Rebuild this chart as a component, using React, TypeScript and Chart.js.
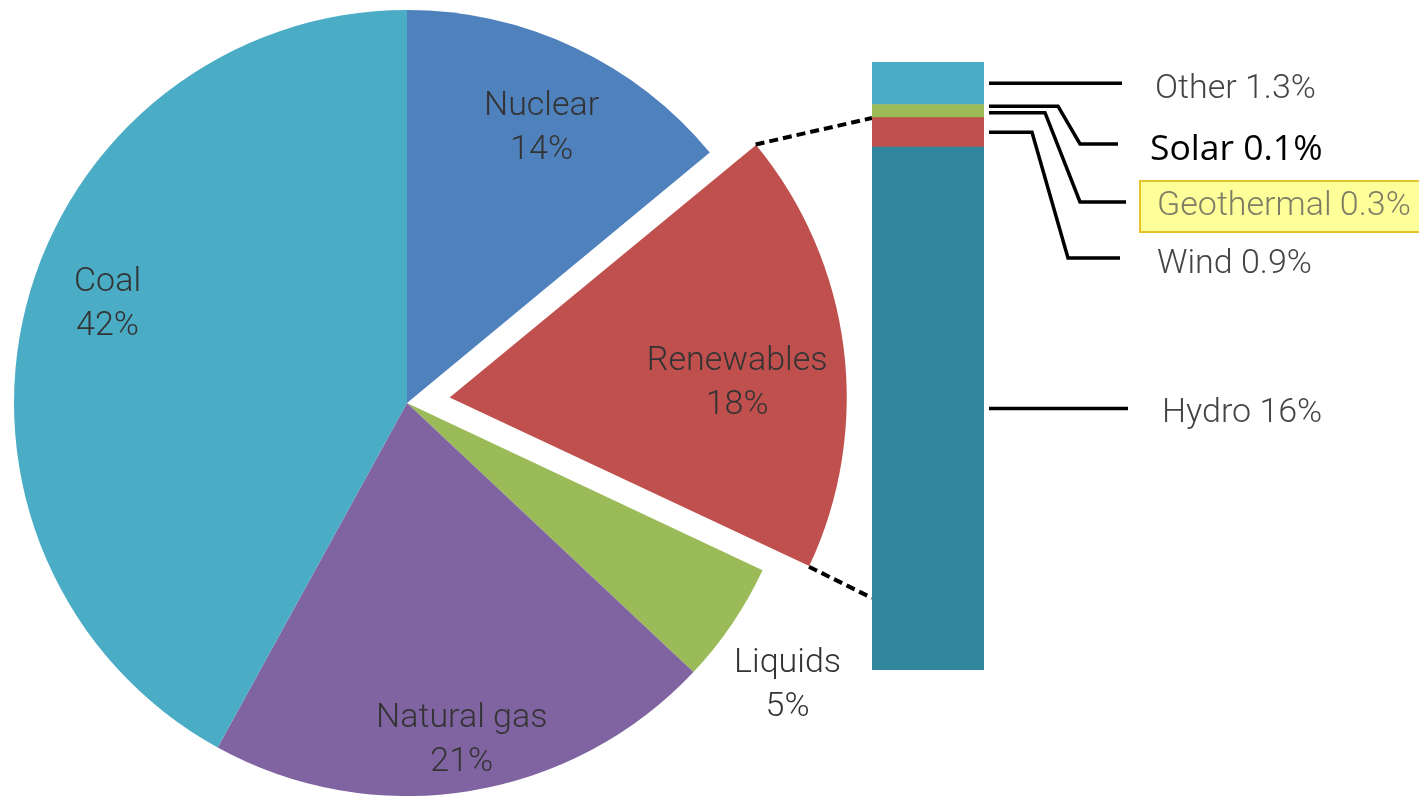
import React, { useEffect, useRef } from "react";
import { Chart, registerables } from "chart.js";

Chart.register(...registerables);

// ---- data ----
const pieLabels = ["Nuclear", "Renewables", "Liquids", "Natural gas", "Coal"];
const pieValues = [14, 18, 5, 21, 42];
const pieColors = ["#4F81BD", "#C0504D", "#9BBB59", "#8064A2", "#4BACC6"];

const renewLabels = ["Hydro", "Wind", "Geothermal", "Solar", "Other"];
const renewValues = [16, 0.9, 0.3, 0.1, 1.3];
const renewValueText = ["16%", "0.9%", "0.3%", "0.1%", "1.3%"];
const renewColors = ["#31859C", "#C0504D", "#9BBB59", "#9BBB59", "#4BACC6"];

// ---- layout / style (not data) ----
const W = 1419;
const H = 796;
const PIE_RADIUS = 393;
const explodeOffset = [0, 172, 0, 0, 0];
// radius factor & angle delta (deg) from slice mid-angle for each pie label
const pieLabelPlace = [
  { r: 0.787, da: 0.6 },
  { r: 0.733, da: 3.6 },
  { r: 1.2, da: 2.0 },
  { r: 0.862, da: -0.3 },
  { r: 0.805, da: 4.4 },
];
const LABEL_FONT = "300 34px Roboto";
const LABEL_COLOR = "#333333";

// leader lines: kink x, elbow (x,y), end x, text position, style
const leaders = [
  { kinkX: null, elbow: null, endX: 1128, tx: 1162, ty: 422, font: LABEL_FONT, color: "#444444", box: false },
  { kinkX: 1032, elbow: [1068, 258], endX: 1120, tx: 1157, ty: 273, font: LABEL_FONT, color: "#444444", box: false },
  { kinkX: 1045, elbow: [1080, 202], endX: 1126, tx: 1157, ty: 215, font: LABEL_FONT, color: "#7d7d66", box: true },
  { kinkX: 1058, elbow: [1080, 144], endX: 1118, tx: 1150, ty: 160, font: "400 35.5px 'Open Sans'", color: "#000000", box: false },
  { kinkX: null, elbow: null, endX: 1122, tx: 1155, ty: 98, font: LABEL_FONT, color: "#444444", box: false },
];
const dashTargets = [
  [872, 118],
  [872, 598],
];

const piePlugin = {
  id: "pieLabels",
  afterDatasetsDraw(chart: any) {
    const ctx = chart.ctx;
    const meta = chart.getDatasetMeta(0);
    ctx.save();
    meta.data.forEach((arc: any, i: number) => {
      const p = arc.getProps(["x", "y", "startAngle", "endAngle", "outerRadius", "circumference"], true);
      const off = explodeOffset[i] / 4;
      const mid = (p.startAngle + p.endAngle) / 2;
      const cx = p.x + Math.cos(mid) * off;
      const cy = p.y + Math.sin(mid) * off;
      const place = pieLabelPlace[i];
      const a = mid + (place.da * Math.PI) / 180;
      const r = p.outerRadius * place.r;
      const lx = cx + Math.cos(a) * r;
      const ly = cy + Math.sin(a) * r;
      ctx.font = LABEL_FONT;
      ctx.fillStyle = LABEL_COLOR;
      ctx.textAlign = "center";
      ctx.textBaseline = "alphabetic";
      ctx.fillText(pieLabels[i], lx, ly - 22 + 12);
      ctx.fillText(pieValues[i] + "%", lx, ly + 22 + 12);

      if (explodeOffset[i] > 0) {
        const fix = 1 - Math.sin(Math.min(Math.PI, p.circumference));
        const rr = p.outerRadius + off * fix;
        const corners = [p.startAngle, p.endAngle];
        ctx.strokeStyle = "#000";
        ctx.lineWidth = 4;
        ctx.setLineDash([9, 5]);
        corners.forEach((ang: number, k: number) => {
          ctx.beginPath();
          ctx.moveTo(cx + Math.cos(ang) * rr, cy + Math.sin(ang) * rr);
          ctx.lineTo(dashTargets[k][0], dashTargets[k][1]);
          ctx.stroke();
        });
        ctx.setLineDash([]);
      }
    });
    ctx.restore();
  },
};

const barPlugin = {
  id: "leaders",
  afterDatasetsDraw(chart: any) {
    const ctx = chart.ctx;
    ctx.save();
    renewLabels.forEach((lab, i) => {
      const bar: any = chart.getDatasetMeta(i).data[0];
      const p = bar.getProps(["x", "y", "base", "width"], true);
      const segY = (p.y + p.base) / 2;
      const right = p.x + p.width / 2;
      const L = leaders[i];
      ctx.strokeStyle = "#000";
      ctx.lineWidth = 3.5;
      ctx.lineJoin = "miter";
      ctx.beginPath();
      ctx.moveTo(right + 5, segY);
      if (L.kinkX !== null && L.elbow) {
        ctx.lineTo(L.kinkX, segY);
        ctx.lineTo(L.elbow[0], L.elbow[1]);
        ctx.lineTo(L.endX, L.elbow[1]);
      } else {
        ctx.lineTo(L.endX, segY);
      }
      ctx.stroke();

      const text = lab + " " + renewValueText[i];
      ctx.font = L.font;
      if (L.box) {
        ctx.fillStyle = "#FFFF99";
        ctx.fillRect(1140, 181, 290, 51);
        ctx.strokeStyle = "#E6C229";
        ctx.lineWidth = 2;
        ctx.strokeRect(1140, 181, 290, 51);
      }
      ctx.fillStyle = L.color;
      ctx.textAlign = "left";
      ctx.textBaseline = "alphabetic";
      ctx.fillText(text, L.tx, L.ty);
    });
    ctx.restore();
  },
};

export default function App() {
  const pieRef = useRef<HTMLCanvasElement>(null);
  const barRef = useRef<HTMLCanvasElement>(null);

  useEffect(() => {
    document.body.style.margin = "0";
    const pie = new Chart(pieRef.current as HTMLCanvasElement, {
      type: "pie",
      data: {
        labels: pieLabels,
        datasets: [
          {
            data: pieValues,
            backgroundColor: pieColors,
            borderWidth: 0,
            offset: explodeOffset,
          },
        ],
      },
      options: {
        responsive: false,
        animation: false,
        radius: PIE_RADIUS,
        layout: { padding: { left: 0, right: W - 814, top: 10, bottom: 0 } },
        plugins: { legend: { display: false }, tooltip: { enabled: false } },
        events: [],
      } as any,
      plugins: [piePlugin],
    });

    const total = renewValues.reduce((s, v) => s + v, 0);
    const bar = new Chart(barRef.current as HTMLCanvasElement, {
      type: "bar",
      data: {
        labels: ["Renewables"],
        datasets: renewLabels.map((l, i) => ({
          label: l,
          data: [renewValues[i]],
          backgroundColor: renewColors[i],
          borderWidth: 0,
          barPercentage: 1,
          categoryPercentage: 1,
        })),
      },
      options: {
        responsive: false,
        animation: false,
        layout: { padding: { left: 872, right: W - 984, top: 62, bottom: H - 670 } },
        scales: {
          x: { stacked: true, display: false },
          y: { stacked: true, display: false, min: 0, max: total },
        },
        plugins: { legend: { display: false }, tooltip: { enabled: false } },
        events: [],
      },
      plugins: [barPlugin],
    });

    return () => {
      pie.destroy();
      bar.destroy();
    };
  }, []);

  return (
    <div style={{ position: "absolute", left: 0, top: 0, width: W, height: H, background: "#fff", overflow: "hidden" }}>
      <canvas ref={pieRef} width={W} height={H} style={{ position: "absolute", left: 0, top: 0 }} />
      <canvas ref={barRef} width={W} height={H} style={{ position: "absolute", left: 0, top: 0 }} />
    </div>
  );
}
